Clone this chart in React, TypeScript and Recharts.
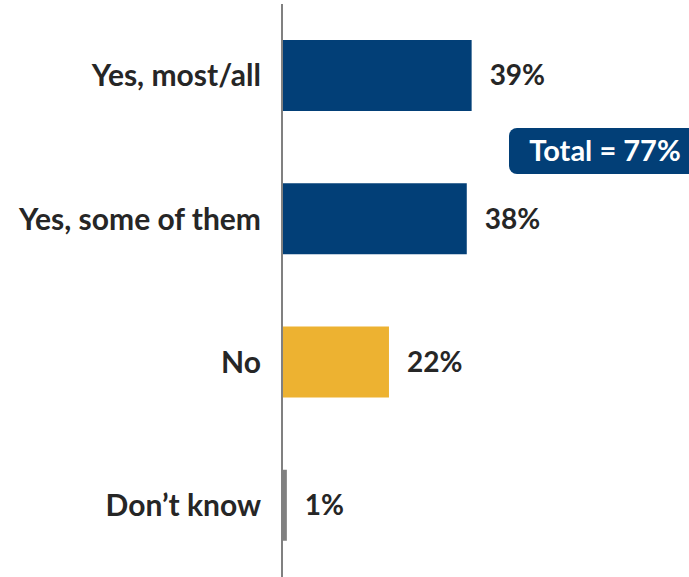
import { Bar, BarChart, Cell, Customized, LabelList, XAxis, YAxis } from "recharts";

const categories = ["Yes, most/all", "Yes, some of them", "No", "Don\u2019t know"];
const values = [39, 38, 22, 1];
const barColors = ["#023F77", "#023F77", "#EDB231", "#808080"];
const totalLabel = "Total = 77%";

const data = categories.map((name, i) => ({ name, value: values[i] }));

const FONT = "Lato, 'Open Sans', sans-serif";

// rounded badge next to the two "yes" bars
const TotalBadge = () => (
  <g>
    <rect x={509} y={128} width={200} height={46} rx={8} ry={8} fill="#023F77" />
    <text
      x={605}
      y={161}
      textAnchor="middle"
      fill="#ffffff"
      fontSize={29}
      fontWeight={700}
      fontFamily={FONT}
    >
      {totalLabel}
    </text>
  </g>
);

const App = () => {
  return (
    <div style={{ position: "absolute", left: 0, top: 0, background: "#fff" }}>
      <BarChart
        width={689}
        height={577}
        data={data}
        layout="vertical"
        margin={{ top: 4, right: 18, bottom: 0, left: 0 }}
        barCategoryGap="25%"
      >
        <XAxis type="number" domain={[0, 80]} hide />
        <YAxis
          type="category"
          dataKey="name"
          width={282}
          axisLine={{ stroke: "#808080", strokeWidth: 2 }}
          tickLine={false}
          tickMargin={15}
          tick={{ fill: "#262626", fontSize: 30, fontWeight: 700, fontFamily: FONT }}
        />
        <Bar dataKey="value" barSize={71} isAnimationActive={false}>
          {data.map((d, i) => (
            <Cell key={d.name} fill={barColors[i]} />
          ))}
          <LabelList
            dataKey="value"
            position="right"
            offset={18}
            formatter={(v: number) => `${v}%`}
            style={{ fill: "#262626", fontSize: 28, fontWeight: 700, fontFamily: FONT }}
          />
        </Bar>
        <Customized component={TotalBadge} />
      </BarChart>
    </div>
  );
};

export default App;
